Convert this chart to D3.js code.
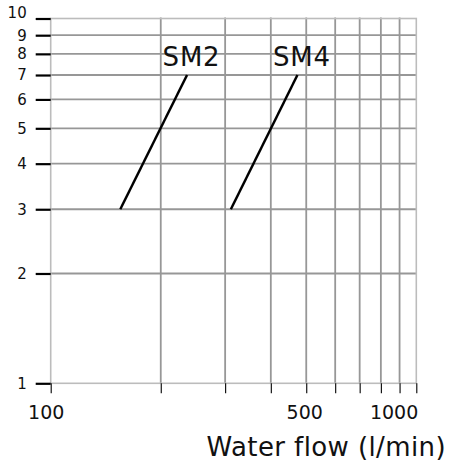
<!DOCTYPE html>
<html>
<head>
<meta charset="utf-8">
<script src="https://cdn.jsdelivr.net/npm/d3@7"></script>
<style>
    body { margin: 0; background: #fff; }
    svg { display: block; }
    text { font-family: 'DejaVu Sans', sans-serif; fill: #111; }
</style>
</head>
<body>
<svg id="grafico"></svg>
<script>
// Dados (escala log-log)
const xTicks = [100, 200, 300, 400, 500, 600, 700, 800, 900, 1000];
const xTickLabels = [100, 500, 1000];
const yTicks = [1, 2, 3, 4, 5, 6, 7, 8, 9, 10];
const series = ['SM2', 'SM4'];
const sm2Flow = [155, 236];
const sm2Value = [3, 7];
const sm4Flow = [311, 473];
const sm4Value = [3, 7];
const xTitle = 'Water flow (l/min)';

const width = 449;
const height = 464;

const svg = d3.select('#grafico')
    .attr('width', width)
    .attr('height', height);

const x = d3.scaleLog().domain([100, 1000]).range([50.7, 416.3]);
const y = d3.scaleLog().domain([1, 10]).range([383.3, 18.5]);

// Grade interna
const grid = svg.append('g').attr('class', 'grid');
grid.selectAll('line.v')
    .data(xTicks.slice(1, -1))
    .enter()
    .append('line')
    .attr('class', 'v')
    .attr('x1', d => x(d)).attr('x2', d => x(d))
    .attr('y1', y(10) - 1).attr('y2', y(1))
    .attr('stroke', '#979797')
    .attr('stroke-width', 1.8);

grid.selectAll('line.h')
    .data(yTicks.slice(1, -1))
    .enter()
    .append('line')
    .attr('class', 'h')
    .attr('x1', x(100)).attr('x2', x(1000))
    .attr('y1', d => y(d)).attr('y2', d => y(d))
    .attr('stroke', '#979797')
    .attr('stroke-width', 1.8);

// Moldura (mais clara)
svg.append('rect')
    .attr('x', x(100))
    .attr('y', y(10))
    .attr('width', x(1000) - x(100))
    .attr('height', y(1) - y(10))
    .attr('fill', 'none')
    .attr('stroke', '#bcbcbc')
    .attr('stroke-width', 1.6);

// Eixo Y: traços pretos à esquerda
const yAxis = d3.axisLeft(y)
    .tickValues(yTicks)
    .tickSize(15)
    .tickPadding(9)
    .tickFormat(d3.format('d'));
const gy = svg.append('g')
    .attr('transform', `translate(${x(100)},0)`)
    .call(yAxis);
gy.select('.domain').remove();
gy.selectAll('.tick line').attr('stroke', '#000').attr('stroke-width', 2.2);
gy.selectAll('.tick text')
    .attr('font-size', 15)
    .attr('font-family', "'DejaVu Sans', sans-serif")
    .attr('fill', '#111')
    .attr('dy', d => d === 10 ? '-0.05em' : '0.32em');

// Eixo X: traços finos abaixo
const xAxis = d3.axisBottom(x)
    .tickValues(xTicks)
    .tickSize(10)
    .tickFormat('');
const gx = svg.append('g')
    .attr('transform', `translate(0,${y(1)})`)
    .call(xAxis);
gx.select('.domain').remove();
gx.selectAll('.tick line').attr('stroke', '#000').attr('stroke-width', 1.1);

// Rótulos do eixo X (só 100, 500, 1000)
svg.selectAll('text.xlabel')
    .data(xTickLabels)
    .enter()
    .append('text')
    .attr('class', 'xlabel')
    .attr('x', (d, i) => i === xTickLabels.length - 1 ? x(d) + 2 : x(d) - (i === 0 ? 4.5 : 1.5))
    .attr('y', y(1) + 36)
    .attr('text-anchor', (d, i) => i === xTickLabels.length - 1 ? 'end' : 'middle')
    .attr('font-size', 19)
    .text(d => d);

// Título do eixo X
svg.append('text')
    .attr('x', 446)
    .attr('y', 456)
    .attr('text-anchor', 'end')
    .attr('font-size', 26)
    .attr('letter-spacing', 0.4)
    .text(xTitle);

// Curvas
const curvas = [
    { nome: series[0], pts: sm2Flow.map((f, i) => [f, sm2Value[i]]) },
    { nome: series[1], pts: sm4Flow.map((f, i) => [f, sm4Value[i]]) }
];

const linha = d3.line()
    .x(d => x(d[0]))
    .y(d => y(d[1]));

svg.selectAll('path.curva')
    .data(curvas)
    .enter()
    .append('path')
    .attr('class', 'curva')
    .attr('fill', 'none')
    .attr('stroke', '#000')
    .attr('stroke-width', 2.5)
    .attr('d', d => linha(d.pts));

// Nome de cada curva, acima da ponta superior
svg.selectAll('text.nome')
    .data(curvas)
    .enter()
    .append('text')
    .attr('class', 'nome')
    .attr('x', d => x(d.pts[1][0]) + 4.5)
    .attr('y', d => y(d.pts[1][1]) - 9)
    .attr('text-anchor', 'middle')
    .attr('font-size', 26)
    .attr('letter-spacing', 0.8)
    .text(d => d.nome);
</script>
</body>
</html>
